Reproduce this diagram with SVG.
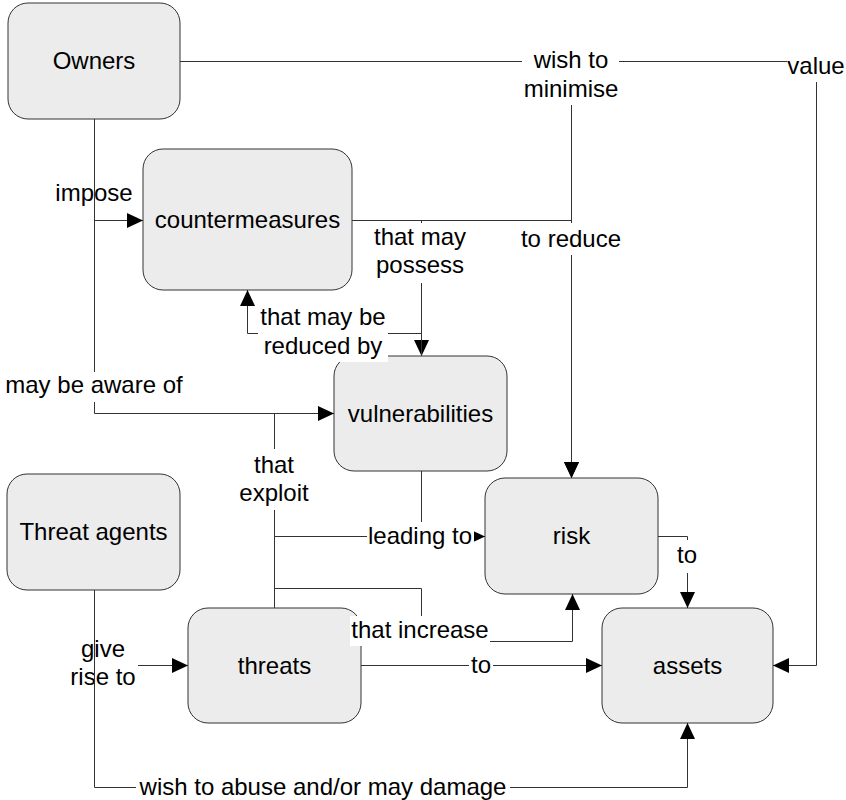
<svg xmlns="http://www.w3.org/2000/svg" width="846" height="800" viewBox="0 0 846 800">
<style>
.box{fill:#ececec;stroke:#333;stroke-width:1}
.t{font-family:"Liberation Sans",Arial,sans-serif;font-size:24px;fill:#000;text-anchor:middle}
.c{fill:none;stroke:#333;stroke-width:1}
.a{marker-end:url(#arr)}
.lb{fill:#fff}
</style>
<defs>
<marker id="arr" markerUnits="userSpaceOnUse" markerWidth="16" markerHeight="15" refX="16" refY="7.5" orient="auto" viewBox="0 0 16 15">
<path d="M0,0 L16,7.5 L0,15 z" fill="#000"/>
</marker>
</defs>
<rect width="846" height="800" fill="#fff"/>
<g id="nodes">
<g id="owners"><rect class="box" x="8" y="3" width="172" height="116" rx="20"/><text class="t" x="94" y="69">Owners</text></g>
<g id="countermeasures"><rect class="box" x="143" y="149" width="209" height="141" rx="20"/><text class="t" x="247.5" y="228">countermeasures</text></g>
<g id="vulnerabilities"><rect class="box" x="334" y="356" width="173" height="115" rx="20"/><text class="t" x="420.5" y="422">vulnerabilities</text></g>
<g id="threat-agents"><rect class="box" x="7" y="474" width="173" height="116" rx="20"/><text class="t" x="93.5" y="540">Threat agents</text></g>
<g id="risk"><rect class="box" x="485" y="478" width="173" height="116" rx="20"/><text class="t" x="571.5" y="544">risk</text></g>
<g id="threats"><rect class="box" x="188" y="608" width="173" height="115" rx="20"/><text class="t" x="274.5" y="674">threats</text></g>
<g id="assets"><rect class="box" x="602" y="608" width="171" height="115" rx="20"/><text class="t" x="687.5" y="674">assets</text></g>
</g>
<g id="connectors">
<!-- owners -> countermeasures -->
<path class="c a" d="M94.5 119 V220.5 H143"/>
<rect class="lb" x="53" y="182" width="82" height="26"/>
<text class="t" x="94" y="201">impose</text>
<!-- owners -> vulnerabilities -->
<path class="c a" d="M94.5 119 V413.5 H334"/>
<rect class="lb" x="3" y="372" width="183" height="30"/>
<text class="t" x="94" y="393">may be aware of</text>
<!-- owners -> assets -->
<path class="c a" d="M180 61.5 H816.5 V665.5 H773"/>
<rect class="lb" x="787" y="50" width="59" height="32"/>
<text class="t" x="816" y="74">value</text>
<!-- owners -> risk -->
<path class="c a" d="M180 61.5 H571.5 V478"/>
<rect class="lb" x="522" y="47" width="97" height="58"/>
<text class="t" x="571" y="68">wish to</text>
<text class="t" x="571" y="97">minimise</text>
<!-- countermeasures -> risk -->
<path class="c a" d="M352 220.5 H571.5 V478"/>
<rect class="lb" x="519" y="223" width="104" height="32"/>
<text class="t" x="571" y="247">to reduce</text>
<!-- countermeasures -> vulnerabilities -->
<path class="c a" d="M421.5 220.5 V356"/>
<rect class="lb" x="370" y="223" width="102" height="60"/>
<text class="t" x="420" y="245">that may</text>
<text class="t" x="420" y="273">possess</text>
<!-- vulnerabilities -> countermeasures -->
<path class="c a" d="M421.5 356 V333.5 H247.5 V290"/>
<rect class="lb" x="258" y="306" width="130" height="56"/>
<text class="t" x="323" y="325">that may be</text>
<text class="t" x="323" y="354">reduced by</text>
<!-- vulnerabilities -> risk -->
<path class="c a" d="M421.5 471 V536.5 H485"/>
<!-- threats -> risk -->
<path class="c" d="M274.5 608 V536.5 H421.5"/>
<rect class="lb" x="367" y="522" width="107" height="30"/>
<text class="t" x="420" y="544">leading to</text>
<!-- threats -> vulnerabilities -->
<path class="c" d="M274.5 608 V413.5"/>
<rect class="lb" x="237" y="449" width="75" height="61"/>
<text class="t" x="274" y="473">that</text>
<text class="t" x="274" y="501">exploit</text>
<!-- threats -> risk (increase) -->
<path class="c a" d="M274.5 588.5 H421.5 V641.5 H572.5 V594"/>
<rect class="lb" x="350" y="616" width="140" height="30"/>
<text class="t" x="420" y="638">that increase</text>
<!-- threats -> assets -->
<path class="c a" d="M361 665.5 H602"/>
<rect class="lb" x="469" y="652" width="24" height="28"/>
<text class="t" x="481" y="673">to</text>
<!-- risk -> assets -->
<path class="c a" d="M658 536.5 H687.5 V608"/>
<rect class="lb" x="675" y="540" width="25" height="33"/>
<text class="t" x="687" y="563">to</text>
<!-- threat agents -> threats -->
<path class="c a" d="M94.5 590 V665.5 H188"/>
<rect class="lb" x="68" y="638" width="70" height="55"/>
<text class="t" x="103" y="657">give</text>
<text class="t" x="103" y="685">rise to</text>
<!-- threat agents -> assets -->
<path class="c a" d="M94.5 590 V787.5 H687.5 V723"/>
<rect class="lb" x="136" y="776" width="374" height="24"/>
<text class="t" x="323" y="795">wish to abuse and/or may damage</text>
</g>
</svg>
